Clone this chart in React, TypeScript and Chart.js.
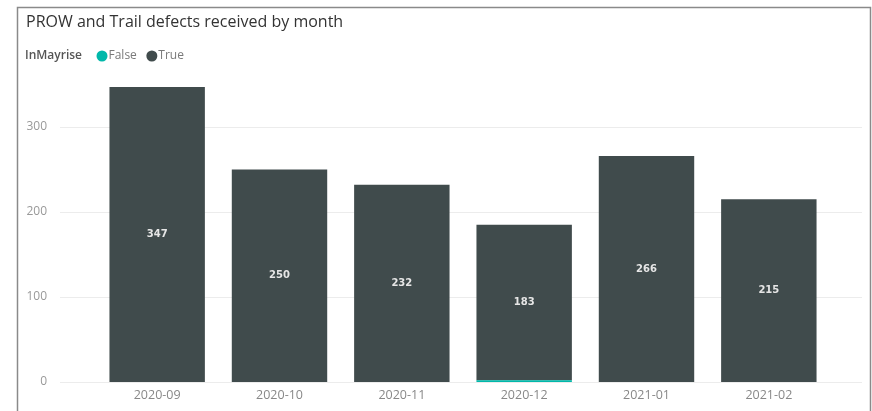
import React, { useEffect, useRef } from "react";
import { Chart, registerables } from "chart.js";

Chart.register(...registerables);

const chartTitle = "PROW and Trail defects received by month";
const legendTitle = "InMayrise";
const months = ["2020-09", "2020-10", "2020-11", "2020-12", "2021-01", "2021-02"];
const falseValues = [0, 0, 0, 2, 0, 0];
const trueValues = [347, 250, 232, 183, 266, 215];
const yTickValues = [0, 100, 200, 300];
const yMax = 360;

const FALSE_COLOR = "#01B8AA";
const TRUE_COLOR = "#404b4c";
const FONT = "'Open Sans', 'Noto Sans', sans-serif";

const decorPlugin = {
  id: "decor",
  beforeDatasetsDraw(chart: any) {
    const ctx = chart.ctx;
    const y = chart.scales.y;
    ctx.save();
    ctx.strokeStyle = "#ececec";
    ctx.lineWidth = 1;
    for (const v of yTickValues) {
      const py = Math.round(y.getPixelForValue(v)) + 0.5;
      ctx.beginPath();
      ctx.moveTo(60, py);
      ctx.lineTo(862, py);
      ctx.stroke();
    }
    ctx.restore();
  },
  afterDatasetsDraw(chart: any) {
    const ctx = chart.ctx;
    const meta = chart.getDatasetMeta(1);
    ctx.save();
    ctx.font = "bold 10px 'DejaVu Sans', sans-serif";
    ctx.fillStyle = "#e6e6e6";
    ctx.textAlign = "center";
    ctx.textBaseline = "middle";
    meta.data.forEach((el: any, i: number) => {
      const v = chart.data.datasets[1].data[i];
      ctx.fillText(String(v), el.x, (el.y + el.base) / 2);
    });
    ctx.restore();
  },
  afterDraw(chart: any) {
    const ctx = chart.ctx;
    ctx.save();
    ctx.strokeStyle = "#8a8a8a";
    ctx.lineWidth = 1.5;
    ctx.beginPath();
    ctx.moveTo(17.5, 411);
    ctx.lineTo(17.5, 7.5);
    ctx.lineTo(870.5, 7.5);
    ctx.lineTo(870.5, 411);
    ctx.stroke();
    ctx.fillStyle = "#333333";
    ctx.font = `16px ${FONT}`;
    ctx.textBaseline = "alphabetic";
    ctx.textAlign = "left";
    ctx.fillText(chartTitle, 26, 27);
    const ly = 56;
    ctx.textBaseline = "middle";
    ctx.font = `600 12px ${FONT}`;
    ctx.fillStyle = "#555555";
    ctx.fillText(legendTitle, 25, ly);
    let x = 102;
    ctx.font = `12px ${FONT}`;
    chart.data.datasets.forEach((ds: any) => {
      ctx.fillStyle = ds.backgroundColor;
      ctx.beginPath();
      ctx.arc(x, ly, 5.5, 0, Math.PI * 2);
      ctx.fill();
      ctx.fillStyle = "#7a7a7a";
      ctx.fillText(ds.label, x + 6.5, ly);
      x += 6.5 + ctx.measureText(ds.label).width + 15;
    });
    ctx.restore();
  },
};

export default function App() {
  const ref = useRef<HTMLCanvasElement>(null);
  useEffect(() => {
    if (!ref.current) return;
    const chart = new Chart(ref.current, {
      type: "bar",
      data: {
        labels: months,
        datasets: [
          { label: "False", data: falseValues, backgroundColor: FALSE_COLOR },
          { label: "True", data: trueValues, backgroundColor: TRUE_COLOR },
        ],
      },
      options: {
        animation: false,
        responsive: false,
        maintainAspectRatio: false,
        layout: { padding: { top: 76, right: 42, left: 0, bottom: 0 } },
        datasets: { bar: { barPercentage: 0.78, categoryPercentage: 1 } },
        plugins: {
          legend: { display: false },
          title: { display: false },
          tooltip: { enabled: false },
        },
        scales: {
          x: {
            stacked: true,
            grid: { display: false, drawTicks: false },
            border: { display: false },
            ticks: {
              color: "#888888",
              font: { family: FONT, size: 12.5 },
              padding: 6,
              maxRotation: 0,
            },
            afterFit: (s: any) => {
              s.height = 29;
            },
          },
          y: {
            stacked: true,
            min: 0,
            max: yMax,
            grid: { display: false, drawTicks: false },
            border: { display: false },
            ticks: {
              stepSize: 100,
              includeBounds: false,
              color: "#999999",
              font: { family: FONT, size: 12 },
              padding: 49,
            },
            afterFit: (s: any) => {
              s.width = 96;
              s.paddingTop = 0;
              s.paddingBottom = 0;
            },
          },
        },
      },
      plugins: [decorPlugin],
    } as any);
    return () => chart.destroy();
  }, []);
  return (
    <div style={{ position: "fixed", left: 0, top: 0, width: 872, height: 411, background: "#fff" }}>
      <canvas ref={ref} width={872} height={411} style={{ display: "block" }} />
    </div>
  );
}
